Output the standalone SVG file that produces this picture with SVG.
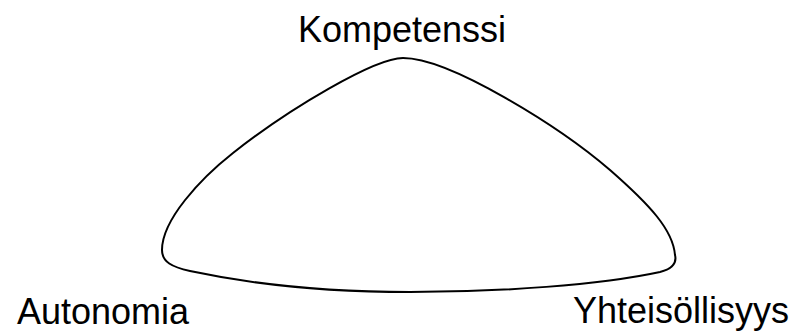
<svg xmlns="http://www.w3.org/2000/svg" width="797" height="331" viewBox="0 0 797 331">
<style>
.lbl{font-family:"Liberation Sans",Arial,sans-serif;font-size:36px;fill:#000}
.shape{fill:#fff;stroke:#000;stroke-width:2}
</style>
<rect width="797" height="331" fill="#fff"/>
<g id="connectors">
<path class="shape" d="M 403 58 C 375 58 290 108 233 153 C 200 179 162 220 162 250 C 162 262 172 267 190 271 C 260 286 340 292 410 292 C 500 292 600 285 660 272 C 672 269 677 263 675 255 C 673 230 650 205 610 170 C 560 127 450 58 403 58 Z"/>
</g>
<g id="kompetenssi"><text class="lbl" x="298" y="42">Kompetenssi</text></g>
<g id="autonomia"><text class="lbl" x="17" y="324">Autonomia</text></g>
<g id="yhteisollisyys"><text class="lbl" x="573" y="323">Yhteisöllisyys</text></g>
</svg>
